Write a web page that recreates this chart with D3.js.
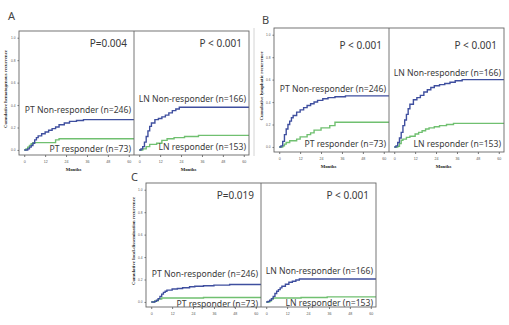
<!DOCTYPE html>
<html>
<head>
<meta charset="utf-8">
<script src="https://cdn.jsdelivr.net/npm/d3@7/dist/d3.min.js"></script>
<style>
  body { margin: 0; background: #fff; }
</style>
</head>
<body>
<div id="chart"></div>
<script>
// ---- data ----
let monthTicks = [0, 12, 24, 36, 48, 60];
let yTicks = [0, 0.2, 0.4, 0.6, 0.8, 1.0];
let panelLetters = ['A', 'B', 'C'];
let yTitles = ['Cumulative hematogenous recurrence',
               'Cumulative lymphatic recurrence',
               'Cumulative local-dissemination recurrence'];
let pValues = [['P=0.004', 'P < 0.001'],
               ['P < 0.001', 'P < 0.001'],
               ['P=0.019', 'P < 0.001']];
let nonLabels = ['PT Non-responder (n=246)', 'LN Non-responder (n=166)'];
let resLabels = ['PT responder (n=73)', 'LN responder (n=153)'];

// [month, cumulative recurrence]
let aPtNon = [[0,0],[2,0.01],[3,0.025],[4,0.04],[5,0.06],[6,0.09],[7,0.11],[8,0.125],[10,0.145],[12,0.16],[14,0.175],[16,0.19],[18,0.205],[20,0.225],[23,0.24],[26,0.255],[30,0.262],[34,0.27]];
let aPtRes = [[0,0],[1,0.01],[2,0.025],[3,0.04],[4,0.055],[5,0.065],[18,0.09],[20,0.10]];
let aLnNon = [[0,0],[1,0.01],[2,0.03],[3,0.07],[4,0.12],[5,0.17],[6,0.21],[7,0.24],[9,0.27],[11,0.28],[13,0.295],[15,0.31],[17,0.33],[19,0.35],[21,0.365],[23,0.38]];
let aLnRes = [[0,0],[2,0.01],[4,0.03],[6,0.05],[10,0.06],[13,0.085],[16,0.10],[20,0.11],[26,0.12],[34,0.13]];

let bPtNon = [[0,0],[1,0.01],[2,0.05],[3,0.11],[4,0.16],[5,0.2],[6,0.23],[7,0.26],[8,0.28],[10,0.31],[12,0.33],[14,0.35],[16,0.37],[18,0.385],[20,0.40],[22,0.415],[25,0.43],[28,0.44],[32,0.447],[38,0.455]];
let bPtRes = [[0,0],[2,0.01],[3,0.025],[4,0.04],[6,0.055],[10,0.07],[12,0.09],[16,0.11],[18,0.125],[20,0.15],[24,0.17],[29,0.19],[32,0.22]];
let bLnNon = [[0,0],[1,0.01],[2,0.04],[3,0.08],[4,0.13],[5,0.19],[6,0.24],[7,0.29],[8,0.34],[9,0.38],[11,0.42],[13,0.44],[15,0.46],[17,0.49],[19,0.51],[21,0.53],[23,0.545],[26,0.555],[29,0.565],[32,0.576],[35,0.59],[39,0.6]];
let bLnRes = [[0,0],[2,0.005],[3,0.03],[4,0.06],[5,0.07],[7,0.085],[9,0.095],[12,0.115],[14,0.13],[16,0.145],[18,0.16],[20,0.17],[23,0.18],[26,0.19],[30,0.2],[34,0.21]];

let cPtNon = [[0,0],[2,0.005],[3,0.015],[4,0.03],[5,0.05],[6,0.07],[7,0.085],[8,0.095],[9,0.105],[12,0.115],[15,0.12],[18,0.127],[22,0.135],[25,0.14],[30,0.145],[36,0.15],[45,0.155]];
let cPtRes = [[0,0],[2,0.01],[4,0.025],[6,0.035],[30,0.04]];
let cLnNon = [[0,0],[1,0.005],[2,0.015],[3,0.03],[4,0.05],[5,0.075],[6,0.095],[7,0.11],[8,0.125],[9,0.14],[11,0.158],[13,0.175],[15,0.185],[17,0.195],[19,0.205]];
let cLnRes = [[0,0],[2,0.01],[3,0.025],[4,0.035],[20,0.04],[35,0.045]];

let curves = [
    [[aPtNon, aPtRes], [aLnNon, aLnRes]],
    [[bPtNon, bPtRes], [bLnNon, bLnRes]],
    [[cPtNon, cPtRes], [cLnNon, cLnRes]]
];

// ---- layout ----
let width = 509, height = 325;
let subW = 115, subH = 124;
let panels = [
    { x: 19,  y: 31,  letter: [8, 20],    title: 7,   months: true,
      lab: [[12, 79, 118], [12, 68, 116]] },
    { x: 274, y: 28,  letter: [262, 24],  title: 263, months: true,
      lab: [[17, 61, 116], [17, 45, 116]] },
    { x: 146, y: 183, letter: [131, 181], title: 135, months: false,
      lab: [[12, 91, 121], [12, 88, 120]] }
];
let blue = '#3f4f9f', green = '#70c070';

let x = d3.scaleLinear().domain([-3, 63]).range([0, subW]);
let y = d3.scaleLinear().domain([-0.045, 1.06]).range([subH, 0]);
let line = d3.line()
    .x(d => x(d[0]))
    .y(d => y(d[1]))
    .curve(d3.curveStepAfter);

let svg = d3.select('#chart')
    .append('svg')
    .attr('width', width)
    .attr('height', height)
    .style('font-family', '"Noto Sans", sans-serif');

svg.append('rect').attr('width', width).attr('height', height).attr('fill', '#fff');

svg.append('defs').append('clipPath')
    .attr('id', 'clip')
    .append('rect')
    .attr('width', subW)
    .attr('height', subH);

// faint scan edge left of panel B
svg.append('line')
    .attr('x1', 254).attr('x2', 254)
    .attr('y1', 28).attr('y2', 156)
    .attr('stroke', '#d4d4d4')
    .attr('stroke-width', 1);

panels.forEach((p, pi) => {
    let g = svg.append('g').attr('transform', `translate(${p.x},${p.y})`);

    svg.append('text')
        .attr('x', p.letter[0])
        .attr('y', p.letter[1])
        .attr('font-size', 11)
        .attr('fill', '#444')
        .text(panelLetters[pi]);

    svg.append('text')
        .attr('transform', `translate(${p.title},${p.y + subH / 2 - 4}) rotate(-90)`)
        .attr('text-anchor', 'middle')
        .attr('font-family', '"Liberation Serif", serif')
        .attr('font-weight', 'bold')
        .attr('font-size', 4.8)
        .attr('fill', '#222')
        .text(yTitles[pi]);

    // y axis on the left of the pair
    let yAxis = g.append('g')
        .call(d3.axisLeft(y).tickValues(yTicks).tickSize(1.5).tickFormat(d3.format('.1f')));
    yAxis.select('.domain').remove();
    yAxis.selectAll('text').attr('font-size', 3.2).attr('fill', '#555').attr('dx', '0.3em');
    yAxis.selectAll('line').attr('stroke', '#777');

    [0, 1].forEach(si => {
        let sg = g.append('g').attr('transform', `translate(${si * subW},0)`);

        let xAxis = sg.append('g')
            .attr('transform', `translate(0,${subH})`)
            .call(d3.axisBottom(x).tickValues(monthTicks).tickSize(2));
        xAxis.select('.domain').remove();
        xAxis.selectAll('text').attr('font-size', 3.6).attr('fill', '#555').attr('dy', '0.9em');
        xAxis.selectAll('line').attr('stroke', '#777');

        if (p.months) {
            sg.append('text')
                .attr('x', subW / 2 - 3)
                .attr('y', subH + 16)
                .attr('text-anchor', 'middle')
                .attr('font-family', '"Liberation Serif", serif')
                .attr('font-weight', 'bold')
                .attr('font-size', 4.8)
                .attr('fill', '#222')
                .text('Months');
        }

        let plot = sg.append('g').attr('clip-path', 'url(#clip)');
        let pair = curves[pi][si];
        [[pair[1], green], [pair[0], blue]].forEach(([pts, col]) => {
            let ext = pts.concat([[63, pts[pts.length - 1][1]]]);
            plot.append('path')
                .datum(ext)
                .attr('d', line)
                .attr('fill', 'none')
                .attr('stroke', col)
                .attr('stroke-width', 1.4);
        });

        let lab = p.lab[si];
        sg.append('text')
            .attr('x', subW - 7)
            .attr('y', lab[0])
            .attr('dy', '0.35em')
            .attr('text-anchor', 'end')
            .attr('font-size', 10)
            .attr('fill', '#3a3a3a')
            .text(pValues[pi][si]);
        sg.append('text')
            .attr('x', subW - 3)
            .attr('y', lab[1])
            .attr('dy', '0.35em')
            .attr('text-anchor', 'end')
            .attr('font-size', 8.6)
            .attr('fill', '#3a3a3a')
            .text(nonLabels[si]);
        sg.append('text')
            .attr('x', subW - 3)
            .attr('y', lab[2])
            .attr('dy', '0.35em')
            .attr('text-anchor', 'end')
            .attr('font-size', 8.6)
            .attr('fill', '#3a3a3a')
            .text(resLabels[si]);
    });

    // frame with divider
    g.append('rect')
        .attr('width', subW * 2)
        .attr('height', subH)
        .attr('fill', 'none')
        .attr('stroke', '#666')
        .attr('stroke-width', 0.9);
    g.append('line')
        .attr('x1', subW).attr('x2', subW)
        .attr('y1', 0).attr('y2', subH)
        .attr('stroke', '#666')
        .attr('stroke-width', 0.9);
});
</script>
</body>
</html>
